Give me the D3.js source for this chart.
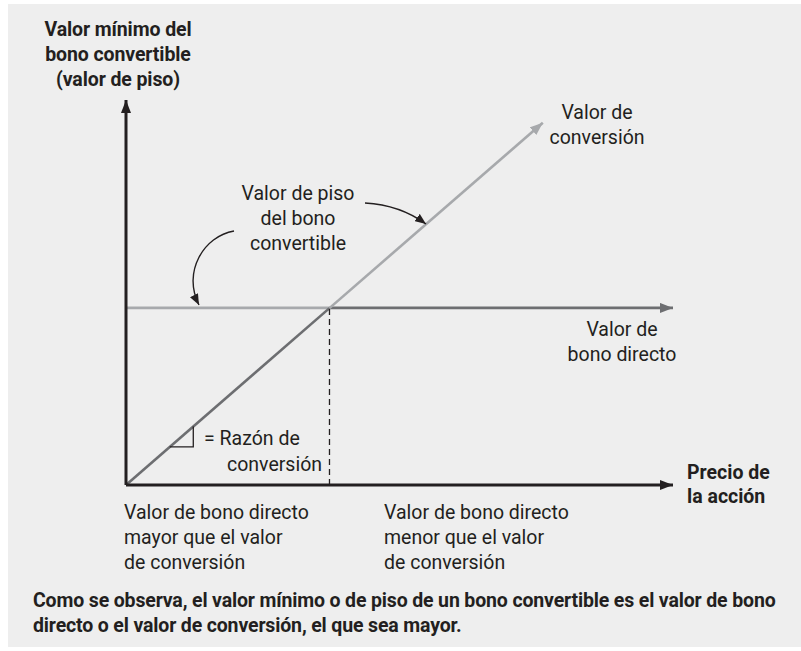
<!DOCTYPE html>
<html>
<head>
<meta charset="utf-8">
<script src="https://cdn.jsdelivr.net/npm/d3@7"></script>
<style>
  html, body { margin: 0; padding: 0; background: #ffffff; }
  svg { display: block; }
  text { font-family: Roboto, "Liberation Sans", Arial, sans-serif; fill: #231f20; }
  .b { font-weight: 700; }
</style>
</head>
<body>
<div id="chart"></div>
<script>
// ---- Data (conceptual units: price 0-100, value 0-100) ----
const axisDomainX = [0, 100];
const axisDomainY = [0, 100];
const straightBondValue = 46;          // horizontal "valor de bono directo"
const conversionRatio = 1.235;         // slope of conversion value line
const breakevenPrice = 37.2;           // where conversion value = straight bond value
const conversionEndPrice = 76.2;       // end of conversion-value arrow
const bondEndPrice = 100;              // end of straight bond arrow
const slopeMarkPrices = [8.0, 12.3];   // small slope triangle

const yAxisTitle = ["Valor mínimo del", "bono convertible", "(valor de piso)"];
const xAxisTitle = ["Precio de", "la acción"];
const convLabel = ["Valor de", "conversión"];
const floorLabel = ["Valor de piso", "del bono", "convertible"];
const bondLabel = ["Valor de", "bono directo"];
const ratioLabel = ["= Razón de", "conversión"];
const leftRegion = ["Valor de bono directo", "mayor que el valor", "de conversión"];
const rightRegion = ["Valor de bono directo", "menor que el valor", "de conversión"];
const caption = ["Como se observa, el valor mínimo o de piso de un bono convertible es el valor de bono",
                 "directo o el valor de conversión, el que sea mayor."];

const W = 801, H = 651;
const BLACK = "#231f20", LIGHT = "#a7a9ac", DARK = "#6d6e71";

const svg = d3.select("#chart").append("svg").attr("width", W).attr("height", H);
svg.append("rect").attr("x", 8).attr("y", 4).attr("width", W - 8).attr("height", 643).attr("fill", "#eeeeee");

const x = d3.scaleLinear().domain(axisDomainX).range([126, 673]);
const y = d3.scaleLinear().domain(axisDomainY).range([485, 100]);

const defs = svg.append("defs");
function marker(id, color, len, wid) {
  defs.append("marker").attr("id", id).attr("viewBox", `0 0 ${len} ${wid}`)
    .attr("refX", len).attr("refY", wid / 2).attr("markerWidth", len).attr("markerHeight", wid)
    .attr("markerUnits", "userSpaceOnUse").attr("orient", "auto")
    .append("path").attr("d", `M0,0L${len},${wid / 2}L0,${wid}Z`).attr("fill", color);
}
marker("aBlack", BLACK, 13, 10);
marker("aLight", LIGHT, 13, 10);
marker("aDark", DARK, 13, 10);
marker("aSmall", BLACK, 11, 9);

const line = d3.line().x(d => x(d[0])).y(d => y(d[1]));
const conv = p => p * conversionRatio;

// straight bond value line (light left part, dark right part)
svg.append("path").attr("d", line([[0, straightBondValue], [breakevenPrice, straightBondValue]]))
  .attr("stroke", LIGHT).attr("stroke-width", 2.6).attr("fill", "none");
svg.append("path").attr("d", line([[breakevenPrice, straightBondValue], [bondEndPrice, straightBondValue]]))
  .attr("stroke", DARK).attr("stroke-width", 2.6).attr("fill", "none").attr("marker-end", "url(#aDark)");

// conversion value line (dark lower part, light upper part)
svg.append("path").attr("d", line([[0, 0], [breakevenPrice, conv(breakevenPrice)]]))
  .attr("stroke", DARK).attr("stroke-width", 2.6).attr("fill", "none");
svg.append("path").attr("d", line([[breakevenPrice, conv(breakevenPrice)], [conversionEndPrice, conv(conversionEndPrice)]]))
  .attr("stroke", LIGHT).attr("stroke-width", 2.6).attr("fill", "none").attr("marker-end", "url(#aLight)");

// dashed vertical
svg.append("path").attr("d", line([[breakevenPrice, 0], [breakevenPrice, straightBondValue]]))
  .attr("stroke", BLACK).attr("stroke-width", 1.3).attr("stroke-dasharray", "6,4").attr("fill", "none");

// slope triangle
const [p1, p2] = slopeMarkPrices;
svg.append("path").attr("d", line([[p1, conv(p1)], [p2, conv(p1)], [p2, conv(p2)]]))
  .attr("stroke", BLACK).attr("stroke-width", 1.3).attr("fill", "none");

// axes
svg.append("path").attr("d", line([[0, 0], [0, axisDomainY[1]]]))
  .attr("stroke", BLACK).attr("stroke-width", 3).attr("fill", "none").attr("marker-end", "url(#aBlack)");
svg.append("path").attr("d", line([[0, 0], [axisDomainX[1], 0]]))
  .attr("stroke", BLACK).attr("stroke-width", 3).attr("fill", "none").attr("marker-end", "url(#aBlack)");

// curved pointer arrows
svg.append("path").attr("d", "M234,231 C204,236 182,272 199,305")
  .attr("stroke", BLACK).attr("stroke-width", 1.4).attr("fill", "none").attr("marker-end", "url(#aSmall)");
svg.append("path").attr("d", "M365,203 Q400,205 426,224")
  .attr("stroke", BLACK).attr("stroke-width", 1.4).attr("fill", "none").attr("marker-end", "url(#aSmall)");

// text helper
function block(lines, xPos, yPos, opts = {}) {
  const t = svg.append("text").attr("x", xPos).attr("y", yPos)
    .attr("text-anchor", opts.anchor || "start")
    .attr("font-size", opts.size || 19.5)
    .attr("class", opts.bold ? "b" : null)
    .attr("letter-spacing", opts.ls || 0);
  lines.forEach((l, i) => t.append("tspan").attr("x", xPos).attr("dy", i === 0 ? 0 : (opts.lh || 25)).text(l));
  return t;
}

block(yAxisTitle, 118, 36, { anchor: "middle", bold: true, size: 19.5, ls: -0.1 });
block(convLabel, 597, 119, { anchor: "middle" });
block(floorLabel, 298, 200, { anchor: "middle" });
block(bondLabel, 622, 336, { anchor: "middle" });
block(xAxisTitle, 687, 479, { bold: true, size: 19.5, lh: 24 });
svg.append("text").attr("x", 204).attr("y", 445).attr("font-size", 19.5).text(ratioLabel[0]);
svg.append("text").attr("x", 227).attr("y", 471).attr("font-size", 19.5).text(ratioLabel[1]);
block(leftRegion, 124, 519);
block(rightRegion, 384, 519);
block(caption, 33, 607, { bold: true, size: 19.5, ls: -0.15, lh: 25 });
</script>
</body>
</html>
